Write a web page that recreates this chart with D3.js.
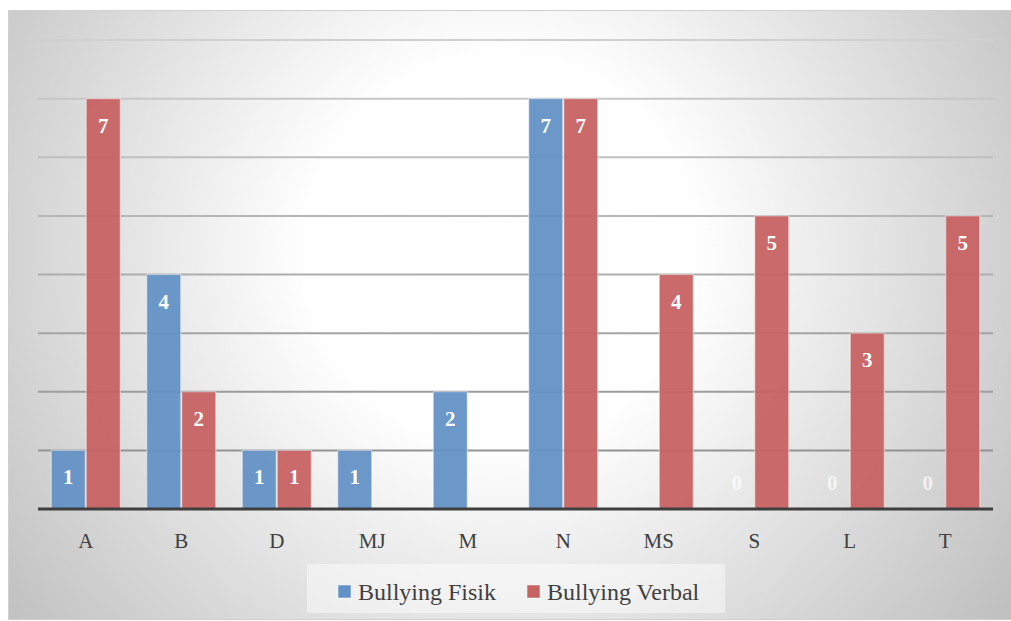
<!DOCTYPE html>
<html>
<head>
<meta charset="utf-8">
<script src="https://d3js.org/d3.v7.min.js"></script>
<style>
  body { margin: 0; background: #fff; }
  text { font-family: 'Liberation Serif', 'DejaVu Serif', serif; }
</style>
</head>
<body>
<script>
// data
var categories = ['A', 'B', 'D', 'MJ', 'M', 'N', 'MS', 'S', 'L', 'T']
var fisik  = [1, 4, 1, 1, 2, 7, null, 0, 0, 0]
var verbal = [7, 2, 1, null, null, 7, 4, 5, 3, 5]
var seriesNames = ['Bullying Fisik', 'Bullying Verbal']
var seriesColors = ['#6391c6', '#c76262']
var yTicks = [0, 1, 2, 3, 4, 5, 6, 7, 8]

var w = 1011, h = 621
var svg = d3.select('body').append('svg').attr('width', w).attr('height', h)

var defs = svg.append('defs')
var grad = defs.append('radialGradient').attr('id', 'bg')
    .attr('gradientUnits', 'userSpaceOnUse')
    .attr('cx', 500).attr('cy', 250).attr('r', 620)
grad.append('stop').attr('offset', '0%').attr('stop-color', '#ffffff')
grad.append('stop').attr('offset', '32%').attr('stop-color', '#fefefe')
grad.append('stop').attr('offset', '100%').attr('stop-color', '#c0c0c0')

svg.append('rect')
    .attr('x', 8.5).attr('y', 10.5).attr('width', 1003).attr('height', 609)
    .attr('fill', 'url(#bg)').attr('stroke', '#d0d0d0')

var pLeft = 38, pRight = 993, pTop = 40, pBottom = 509

var x = d3.scaleBand().domain(categories).range([pLeft, pRight])
    .paddingInner(0.267).paddingOuter(0.1335)
var xs = d3.scaleBand().domain(seriesNames).range([0, x.bandwidth()])
var y = d3.scaleLinear().domain([0, 8]).range([pBottom, pTop])
var gridColor = d3.scaleLinear().domain([0, 8]).range(['#8a8a8a', '#d0d0d0'])

// gridlines
svg.append('g').selectAll('line')
    .data(yTicks.slice(1))
    .enter().append('line')
    .attr('x1', pLeft).attr('x2', pRight)
    .attr('y1', function(d) { return y(d) }).attr('y2', function(d) { return y(d) })
    .attr('stroke', function(d) { return gridColor(d) })
    .attr('stroke-width', 2)

var rows = []
categories.forEach(function(c, i) {
    rows.push({ cat: c, s: 0, v: fisik[i] })
    rows.push({ cat: c, s: 1, v: verbal[i] })
})
var shown = rows.filter(function(d) { return d.v !== null })

svg.append('g').selectAll('rect')
    .data(shown.filter(function(d) { return d.v > 0 }))
    .enter().append('rect')
    .attr('x', function(d) { return x(d.cat) + xs(seriesNames[d.s]) + 0.5 })
    .attr('y', function(d) { return y(d.v) })
    .attr('width', xs.bandwidth() - 1)
    .attr('height', function(d) { return y(0) - y(d.v) })
    .attr('fill', function(d) { return seriesColors[d.s] })
    .attr('fill-opacity', 0.95)
    .attr('stroke', '#ffffff').attr('stroke-opacity', 0.45).attr('stroke-width', 1.2)

// baseline
svg.append('line')
    .attr('x1', pLeft).attr('x2', pRight)
    .attr('y1', y(0)).attr('y2', y(0))
    .attr('stroke', '#3f3f3f').attr('stroke-width', 3)

// value labels
svg.append('g').selectAll('text')
    .data(shown)
    .enter().append('text')
    .attr('x', function(d) { return x(d.cat) + xs(seriesNames[d.s]) + xs.bandwidth() / 2 })
    .attr('y', function(d) { return d.v > 0 ? y(d.v) + 34 : y(0) - 19 })
    .attr('text-anchor', 'middle')
    .attr('font-size', 21).attr('font-weight', 'bold')
    .attr('fill', '#fff')
    .attr('fill-opacity', function(d) { return d.v > 0 ? 1 : 0.7 })
    .text(function(d) { return d.v })

// category axis
var xAxis = svg.append('g').attr('transform', 'translate(0,' + pBottom + ')')
    .call(d3.axisBottom(x).tickSize(0).tickPadding(24))
xAxis.select('.domain').remove()
xAxis.selectAll('text')
    .attr('font-family', "'Liberation Serif', serif")
    .attr('font-size', 21).attr('fill', '#404040')

// legend
var lg = svg.append('g')
lg.append('rect').attr('x', 307).attr('y', 564).attr('width', 418).attr('height', 49)
    .attr('fill', '#ffffff').attr('fill-opacity', 0.45)
var legendX = [338, 527]
seriesNames.forEach(function(n, i) {
    lg.append('rect').attr('x', legendX[i]).attr('y', 585).attr('width', 13).attr('height', 13)
        .attr('fill', seriesColors[i]).attr('stroke', '#fff').attr('stroke-opacity', 0.5)
    lg.append('text').attr('x', legendX[i] + 20).attr('y', 600)
        .attr('font-size', 24).attr('fill', '#404040')
        .text(n)
})
</script>
</body>
</html>
